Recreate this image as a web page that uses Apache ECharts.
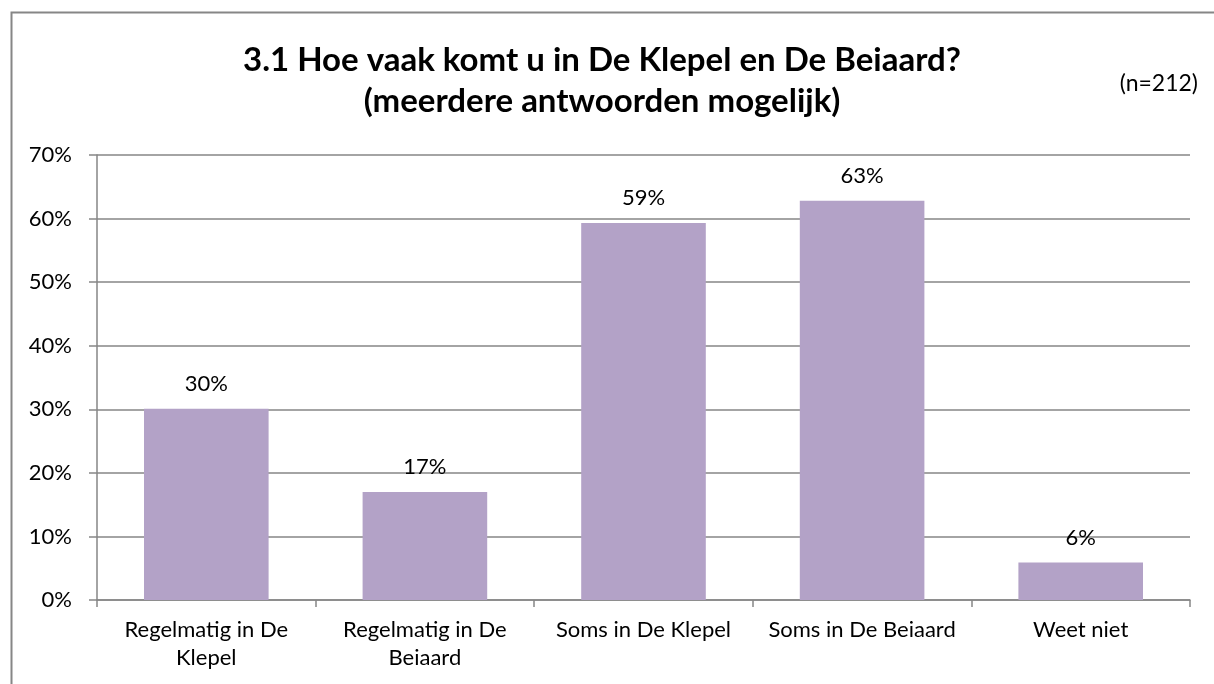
<!DOCTYPE html>
<html>
<head>
<meta charset="utf-8">
<script src="https://cdn.jsdelivr.net/npm/echarts@6/dist/echarts.min.js"></script>
<style>
  html, body { margin: 0; padding: 0; background: #fff; }
  #chart { width: 1214px; height: 684px; }
</style>
</head>
<body>
<div id="chart"></div>
<script>
const categories = [
  'Regelmatig in De\nKlepel',
  'Regelmatig in De\nBeiaard',
  'Soms in De Klepel',
  'Soms in De Beiaard',
  'Weet niet'
];
const values = [30.1, 17.0, 59.3, 62.8, 5.9];
const yTicks = [0, 10, 20, 30, 40, 50, 60, 70];

const font = 'Lato, "Open Sans", sans-serif';

const getOption = () => {
  return {
    animation: false,
    backgroundColor: '#fff',
    textStyle: { fontFamily: font },
    title: {
      text: '3.1 Hoe vaak komt u in De Klepel en De Beiaard?\n(meerdere antwoorden mogelijk)',
      left: 597,
      top: 35,
      textAlign: 'center',
      textStyle: {
        fontFamily: font,
        fontSize: 33,
        fontWeight: 'bold',
        color: '#000',
        lineHeight: 41
      }
    },
    graphic: [
      {
        type: 'rect',
        left: 9,
        top: 10,
        shape: { width: 1230, height: 700 },
        style: { fill: 'none', stroke: '#868686', lineWidth: 2 },
        silent: true
      },
      {
        type: 'text',
        right: 16,
        top: 72,
        style: { text: '(n=212)', font: '23px ' + font, fill: '#000' }
      }
    ],
    grid: {
      left: 97,
      right: 24,
      top: 155,
      bottom: 84
    },
    xAxis: {
      type: 'category',
      data: categories,
      axisLine: { lineStyle: { color: '#868686', width: 1.5 } },
      axisTick: { show: true, length: 7, alignWithLabel: false, lineStyle: { color: '#868686', width: 1.5 } },
      axisLabel: {
        color: '#000',
        fontSize: 22,
        fontFamily: font,
        lineHeight: 28,
        margin: 16,
        interval: 0
      }
    },
    yAxis: {
      type: 'value',
      min: yTicks[0],
      max: yTicks[yTicks.length - 1],
      interval: 10,
      axisLine: { show: true, lineStyle: { color: '#868686', width: 1.5 } },
      axisTick: { show: true, length: 8, lineStyle: { color: '#868686', width: 1.5 } },
      splitLine: { lineStyle: { color: '#868686', width: 1.5 } },
      axisLabel: {
        color: '#000',
        fontSize: 22,
        fontFamily: font,
        margin: 25,
        formatter: '{value}%'
      }
    },
    series: [
      {
        type: 'bar',
        data: values,
        barWidth: '57%',
        itemStyle: { color: '#B3A2C7' },
        label: {
          show: true,
          position: 'top',
          distance: 14,
          color: '#000',
          fontSize: 22,
          fontFamily: font,
          formatter: (p) => Math.round(p.value) + '%'
        }
      }
    ]
  };
};

const chart = echarts.init(document.getElementById('chart'));
chart.setOption(getOption());
</script>
</body>
</html>
